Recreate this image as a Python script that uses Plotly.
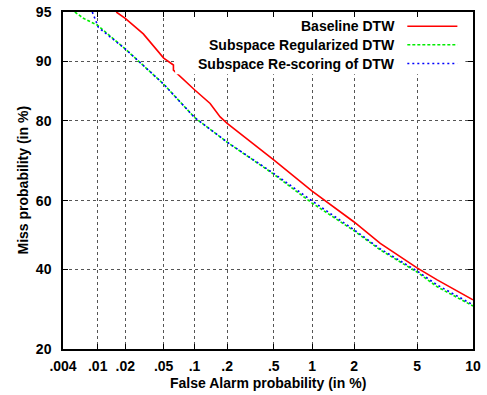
import plotly.graph_objects as go
from statistics import NormalDist

_nd = NormalDist()


def probit(pct):
    return _nd.inv_cdf(pct / 100.0)


# ---- data (percent) ----
baseline_fa = [0.016, 0.02, 0.031, 0.046, 0.05, 0.0625, 0.0625, 0.1, 0.14, 0.173, 0.2, 0.5, 1, 2, 2.98, 5, 6.5, 10]
baseline_miss = [95, 94.5, 93.1, 91.0, 90.4, 89.5, 88.8, 85.8, 83.4, 80.8, 79.5, 71.0, 62.7, 53.8, 47.5, 40.4, 37.0, 31.6]

regularized_fa = [0.0055, 0.0069, 0.01, 0.02, 0.05, 0.1, 0.2, 0.5, 1, 2, 2.98, 5, 6.5, 10]
regularized_miss = [95, 94.5, 93.9, 91.5, 86.7, 80.7, 75.3, 67.3, 59.3, 51.2, 45.6, 39.2, 35.1, 30.0]

rescoring_fa = [0.0087, 0.0102, 0.02, 0.05, 0.1, 0.2, 0.5, 1, 2, 2.98, 5, 6.5, 10]
rescoring_miss = [95, 93.7, 91.5, 86.7, 80.7, 75.3, 67.5, 59.9, 51.5, 45.9, 39.5, 35.6, 30.3]

x_ticks = [0.004, 0.01, 0.02, 0.05, 0.1, 0.2, 0.5, 1, 2, 5, 10]
x_tick_labels = [".004", ".01", ".02", ".05", ".1", ".2", ".5", "1", "2", "5", "10"]
y_ticks = [20, 40, 60, 80, 90, 95]
y_tick_labels = ["20", "40", "60", "80", "90", "95"]

series_names = ["Baseline DTW", "Subspace Regularized DTW", "Subspace Re-scoring of DTW"]
series_colors = ["#ff0000", "#00ee00", "#0000ff"]
series_dash = ["solid", "3px,2px", "2px,3px"]

FONT = "Liberation Sans, Arial, Helvetica, sans-serif"

fig = go.Figure()
for fa, miss, name, col, dash in zip(
    [baseline_fa, regularized_fa, rescoring_fa],
    [baseline_miss, regularized_miss, rescoring_miss],
    series_names, series_colors, series_dash,
):
    fig.add_trace(go.Scatter(
        x=[probit(v) for v in fa],
        y=[probit(v) for v in miss],
        mode="lines",
        name=name,
        line=dict(color=col, width=1.6, dash=dash),
        showlegend=False,
    ))

axis_common = dict(
    showline=True, linecolor="black", linewidth=1.5, mirror="ticks",
    ticks="inside", ticklen=5, tickwidth=1, tickcolor="black",
    showgrid=True, gridcolor="#555555", gridwidth=1, griddash="dot",
    zeroline=False, automargin=False,
    tickfont=dict(family=FONT, size=14, color="black", weight="bold"),
)

fig.update_xaxes(
    range=[probit(x_ticks[0]), probit(x_ticks[-1])],
    tickmode="array",
    tickvals=[probit(v) for v in x_ticks],
    ticktext=x_tick_labels,
    ticklabelstandoff=3,
    **axis_common,
)
fig.update_yaxes(
    range=[probit(y_ticks[0]), probit(y_ticks[-1])],
    tickmode="array",
    tickvals=[probit(v) for v in y_ticks],
    ticktext=y_tick_labels,
    ticklabelstandoff=7,
    **axis_common,
)

shapes = [
    dict(type="rect", xref="paper", yref="paper", x0=0.2734, x1=0.9814, y0=0.8154, y1=0.9843,
         fillcolor="white", line=dict(width=0), layer="above"),
]
annotations = []
row_y = [0.9576, 0.9030, 0.8470]
for name, col, dash, yy in zip(series_names, series_colors, series_dash, row_y):
    annotations.append(dict(
        xref="paper", yref="paper", x=0.8154, y=yy, xanchor="right", yanchor="middle",
        text=name, showarrow=False,
        font=dict(family=FONT, size=14, color="black", weight="bold"),
    ))
    shapes.append(dict(
        type="line", xref="paper", yref="paper", x0=0.8398, x1=0.9619, y0=yy, y1=yy,
        line=dict(color=col, width=1.6, dash=dash), layer="above",
    ))

annotations.append(dict(
    xref="paper", yref="paper", x=0.5, y=-0.1005, xanchor="center", yanchor="middle",
    text="False Alarm probability (in %)", showarrow=False,
    font=dict(family=FONT, size=14, color="black", weight="bold"),
))
annotations.append(dict(
    xref="paper", yref="paper", x=-0.1, y=0.5, xanchor="center", yanchor="middle",
    text="Miss probability (in %)", showarrow=False, textangle=-90,
    font=dict(family=FONT, size=14, color="black", weight="bold"),
))

fig.update_layout(
    width=487, height=395,
    margin=dict(l=63, r=14, t=12, b=46),
    plot_bgcolor="white", paper_bgcolor="white",
    shapes=shapes, annotations=annotations,
    showlegend=False,
)

fig.write_html(
    "out.html",
    config={"displayModeBar": False},
    post_script="document.body.style.margin='0';document.body.style.padding='0';document.body.style.overflow='hidden';",
)
